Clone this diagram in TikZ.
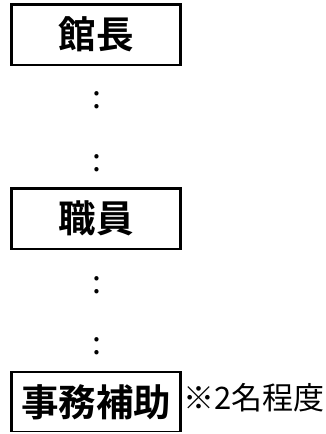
\documentclass[tikz,border=0pt]{standalone}
\usepackage{fontspec}
\newfontfamily\jpfont{Noto Sans CJK JP}
\newfontfamily\jpbold{Noto Sans CJK JP Bold}
\tikzset{
  rolebox/.style={draw=black, line width=2.5pt, minimum width=169pt, minimum height=60.5pt, inner sep=0pt,
    font=\jpbold\fontsize{37.5}{37.5}\selectfont},
  colontext/.style={inner sep=0pt, anchor=base, font=\jpfont\fontsize{32}{32}\selectfont},
  notetext/.style={inner sep=0pt, anchor=west, font=\jpfont\fontsize{31}{31}\selectfont}
}
\begin{document}
\begin{tikzpicture}[x=1pt, y=-1pt]
\useasboundingbox (0,0) rectangle (326,434);
\clip (0,0) rectangle (326,431);
\node[rolebox] (kancho) at (96,34.75) {館長};
\node[colontext] (c1) at (96.5,108.8) {:};
\node[colontext] (c2) at (96.5,171.3) {:};
\node[rolebox] (shokuin) at (96,218.5) {職員};
\node[rolebox] (jimu) at (96,402.25) {事務補助};
\node[colontext] (c3) at (96.5,293.3) {:};
\node[colontext] (c4) at (96.5,354.8) {:};
\node[notetext] (note) at (183.5,397.5) {※2名程度};
\end{tikzpicture}
\end{document}
